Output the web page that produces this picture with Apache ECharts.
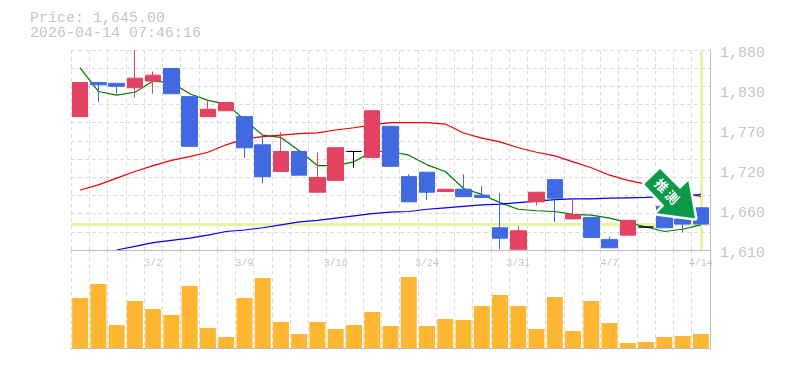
<!DOCTYPE html>
<html><head><meta charset="utf-8">
<style>html,body{margin:0;padding:0;background:#fff}#c{width:785px;height:370px}</style>
<script src="https://cdn.jsdelivr.net/npm/echarts@6/dist/echarts.min.js"></script>
</head><body><div id="c"></div>
<script>
const titleLines = ['Price: 1,645.00', '2026-04-14 07:46:16'];
const categories = ['2/24','2/25','2/26','2/27','3/2','3/3','3/4','3/5','3/6','3/9','3/10','3/11','3/12','3/13','3/16','3/17','3/18','3/19','3/23','3/24','3/25','3/26','3/27','3/30','3/31','4/1','4/2','4/3','4/6','4/7','4/8','4/9','4/10','4/13','4/14'];
const shownDates = ['3/2','3/9','3/16','3/24','3/31','4/7','4/14'];
const tickValues = [1610,1664,1718,1772,1826,1880];
const tickLabels = ['1,610','1,660','1,720','1,770','1,830','1,880'];
// open, close, low, high
const candles = [
[1790,1836,1790,1836],[1836,1833,1810,1836],[1835,1831,1821,1835],[1829,1842,1816,1880],[1838,1846,1821,1851],
[1855,1821,1821,1855],[1817,1750,1750,1817],[1790,1800,1790,1813],[1798,1809,1798,1809],[1790,1748,1734,1790],
[1752,1709,1700,1766],[1716,1743,1716,1769],[1743,1711,1711,1743],[1688,1708,1688,1742],[1704,1748,1704,1748],
[1743,1743,1721,1743],[1735,1798,1735,1798],[1777,1723,1723,1777],[1709,1675,1675,1712],[1715,1688,1677,1715],
[1689,1692,1688,1693],[1692,1682,1682,1712],[1684,1681,1681,1696],[1640,1626,1611,1687],[1611,1636,1611,1642],
[1675,1688,1670,1688],[1705,1680,1648,1705],[1652,1658,1652,1680],[1654,1627,1627,1654],[1624,1613,1613,1628],
[1630,1650,1630,1650],[1641,1641,1641,1641],[1669,1640,1640,1669],[1652,1645,1634,1652],[1667,1645,1645,1667]];
const maShort = [1856,1824,1819,1823,1838,1836,1821,1812,1807,1786,1765,1762,1744,1724,1724,1729,1743,1743,1738,1725,1716,1693,1685,1674,1665,1663,1662,1658,1657,1653,1647,1641,1635,1638,1644];
const maMid = [1691,1698,1707,1716,1724,1731,1736,1742,1752,1760,1763,1765,1767,1768,1772,1775,1779,1782,1782,1782,1780,1768,1761,1756,1748,1742,1737,1729,1721,1711,1704,1699,1694,1688,1682];
const maLong = [null,null,1610,1615,1620,1623,1626,1630,1635,1637,1640,1644,1648,1650,1653,1656,1659,1661,1662,1665,1667,1669,1671,1672,1674,1676,1678,1679,1679,1680,1680.5,1681,1682,1682,1685];
const volumes = [50,64,23,47,39,33,62,20,11,50,70,26,14,26,19,23,36,22,71,22,29,28,42,53,42,19,51,17,47,25,5,6,11,12,14];
const currentPrice = 1645;
const currentDate = '4/14';
const badgeGlyphs = ['推','測'];

const GRID='#dcdcdc', AXIS='#bdbdbd', TXT='#c4c4c4', HI='#e3f6a8', RED='#e34360', BLUE='#4169e1', BADGE='#0a9a4a';
const MONO='"Liberation Mono","DejaVu Sans Mono",monospace';
const dashed={show:true,lineStyle:{color:GRID,width:1,type:[4,3]}};
const line=(data,color)=>({type:'line',data,symbol:'none',smooth:false,connectNulls:false,lineStyle:{color,width:1.2},xAxisIndex:0,yAxisIndex:0,z:2,silent:true});
const arrow=[[660,169],[644.3,184.3],[664.3,205.7],[656.7,213.3],[695,218.3],[688.3,180.7],[680,189]];
const glyph=(t,x,y)=>({type:'text',z:102,x,y,rotation:-Math.PI/4,style:{text:t,fill:'#fff',font:'bold 13px "Noto Sans CJK JP"',align:'center',verticalAlign:'middle'}});

const chart=echarts.init(document.getElementById('c'),null,{renderer:'canvas'});
chart.setOption({
 animation:false,backgroundColor:'#fff',
 title:{text:titleLines.join('\n'),left:30,top:11,padding:0,textStyle:{fontFamily:MONO,fontSize:15,fontWeight:'normal',color:TXT,lineHeight:15}},
 grid:[{left:71,top:50,width:639,height:200},{left:71,top:250,width:639,height:100}],
 xAxis:[
  {type:'category',gridIndex:0,data:categories,boundaryGap:true,
   axisLine:{show:true,lineStyle:{color:AXIS,width:1}},axisTick:{show:false},
   splitLine:{...dashed,interval:0},
   axisLabel:{interval:(i,v)=>shownDates.includes(v),hideOverlap:false,color:TXT,fontFamily:MONO,fontSize:10,margin:8}},
  {type:'category',gridIndex:1,data:categories,boundaryGap:true,
   axisLine:{show:true,lineStyle:{color:AXIS,width:1}},axisTick:{show:false},axisLabel:{show:false},
   splitLine:{...dashed,interval:0}}
 ],
 yAxis:[
  {type:'value',gridIndex:0,position:'right',min:1610,max:1880,scale:true,
   axisLine:{show:true,lineStyle:{color:AXIS,width:1}},axisTick:{show:false},splitLine:{show:false},
   axisLabel:{customValues:tickValues,formatter:v=>'{a|'+tickLabels[tickValues.indexOf(v)]+'}',margin:10,
    rich:{a:{color:TXT,fontFamily:MONO,fontSize:15,padding:[6,0,0,0]}}}},
  {type:'value',gridIndex:1,position:'right',min:-2,max:98,
   axisLine:{show:true,lineStyle:{color:AXIS,width:1}},axisTick:{show:false},axisLabel:{show:false},splitLine:{show:false}},
  {type:'value',gridIndex:0,position:'left',min:0,max:11,interval:1,
   axisLine:{show:false},axisTick:{show:false},axisLabel:{show:false},splitLine:dashed}
 ],
 series:[
  {type:'line',data:[],xAxisIndex:0,yAxisIndex:0,z:1,silent:true,symbol:'none',
   markLine:{z:1,silent:true,symbol:'none',label:{show:false},animation:false,
    lineStyle:{color:HI,width:3,type:'solid'},
    data:[{yAxis:currentPrice},{xAxis:currentDate}]}},
  {type:'candlestick',data:candles,xAxisIndex:0,yAxisIndex:0,barWidth:16,z:3,silent:true,clip:true,
   itemStyle:{color:RED,color0:BLUE,borderColor:RED,borderColor0:BLUE,borderColorDoji:'#000',borderWidth:1}},
  line(maShort,'#007a00'),line(maMid,'#f00000'),line(maLong,'#0000ee'),
  {type:'bar',data:volumes,xAxisIndex:1,yAxisIndex:1,barWidth:16,itemStyle:{color:'#ffb733'},silent:true}
 ],
 graphic:[
  {type:'polygon',z:100,shape:{points:arrow},style:{fill:'#fff',stroke:'#fff',lineWidth:5,lineJoin:'round'}},
  {type:'polygon',z:101,shape:{points:arrow},style:{fill:BADGE}},
  glyph(badgeGlyphs[0],661.7,185.7),
  glyph(badgeGlyphs[1],672.3,197.3)
 ]
});
</script></body></html>
